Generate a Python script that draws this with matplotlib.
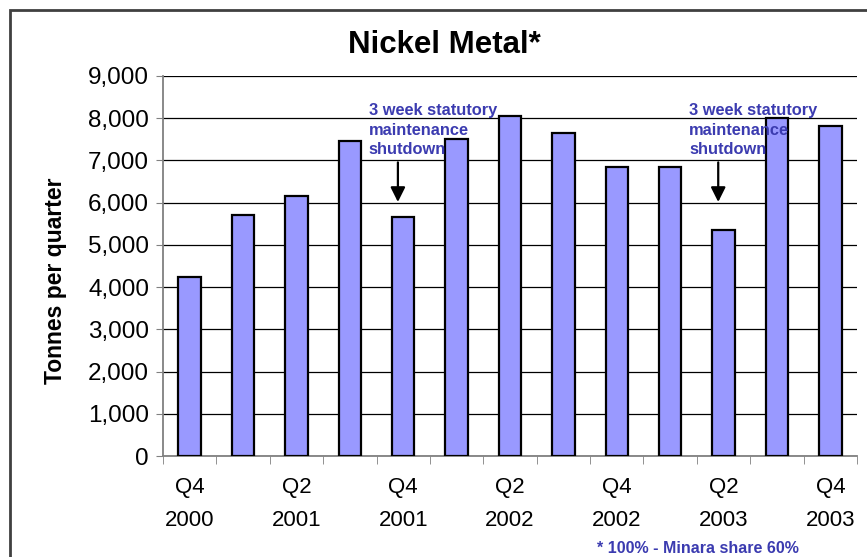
import matplotlib.pyplot as plt
from matplotlib.patches import Rectangle

plt.rcParams['font.family'] = ['Liberation Sans', 'DejaVu Sans']

quarters = ["Q4\n2000", "Q1\n2001", "Q2\n2001", "Q3\n2001", "Q4\n2001",
            "Q1\n2002", "Q2\n2002", "Q3\n2002", "Q4\n2002",
            "Q1\n2003", "Q2\n2003", "Q3\n2003", "Q4\n2003"]
tonnes = [4250, 5700, 6150, 7450, 5650, 7500, 8050, 7650, 6850, 6850, 5350, 8000, 7820]
shutdown_idx = [4, 10]
note_text = "3 week statutory\nmaintenance\nshutdown"

blue_text = "#3b3bb0"

fig = plt.figure(figsize=(8.67, 5.57), dpi=100)
ax = fig.add_axes([0.188, 0.1813, 0.8005, 0.6823])

x = list(range(len(tonnes)))
ax.bar(x, tonnes, width=0.42, color="#9999ff", edgecolor="black", linewidth=1.6, zorder=3)

ax.set_xlim(-0.5, len(tonnes) - 0.5)
ax.set_ylim(0, 9000)
ax.set_yticks(range(0, 9001, 1000))
ax.set_yticklabels([f"{v:,}" for v in range(0, 9001, 1000)], fontsize=17.5)
ax.yaxis.grid(True, color="black", linewidth=0.9, zorder=0)
ax.tick_params(axis="y", length=5, color="#808080", pad=5)

# labels every second quarter, tick marks on the category boundaries
ax.set_xticks(x[::2])
ax.set_xticklabels(quarters[::2], fontsize=16, linespacing=1.75)
ax.tick_params(axis="x", length=0, pad=15)
ax.set_xticks([i - 0.5 for i in range(len(tonnes) + 1)], minor=True)
ax.tick_params(axis="x", which="minor", length=6, color="#808080", direction="out")

for side in ["top", "right"]:
    ax.spines[side].set_visible(False)
ax.spines["left"].set_color("#808080")
ax.spines["bottom"].set_color("#808080")
ax.spines["left"].set_linewidth(1.3)
ax.spines["bottom"].set_linewidth(1.3)

ax.set_ylabel("Tonnes per quarter", fontsize=16.5, fontweight="bold")
ax.yaxis.set_label_coords(-0.139, 0.46)
fig.text(0.512, 0.919, "Nickel Metal*", ha="center", va="center", fontsize=22.5, fontweight="bold")

for i in shutdown_idx:
    ax.text(i - 0.645, 8350, note_text, ha="left", va="top", fontsize=11.8,
            fontweight="bold", color=blue_text, linespacing=1.34, zorder=4)
    ax.annotate("", xy=(i - 0.1, 5950), xytext=(i - 0.1, 7020),
                arrowprops=dict(arrowstyle="-|>", color="black", lw=1.6, mutation_scale=22),
                zorder=4)

fig.text(0.689, 0.016, "* 100% - Minara share 60%", ha="left", va="center",
         fontsize=11.5, fontweight="bold", color=blue_text)

# outer frame around the chart area
fig.patches.append(Rectangle((10 / 867, -0.05), 1.1, 1 - 10 / 557 + 0.05,
                             transform=fig.transFigure, fill=False,
                             edgecolor="#404040", linewidth=2))

fig.savefig("out.png", dpi=100)
